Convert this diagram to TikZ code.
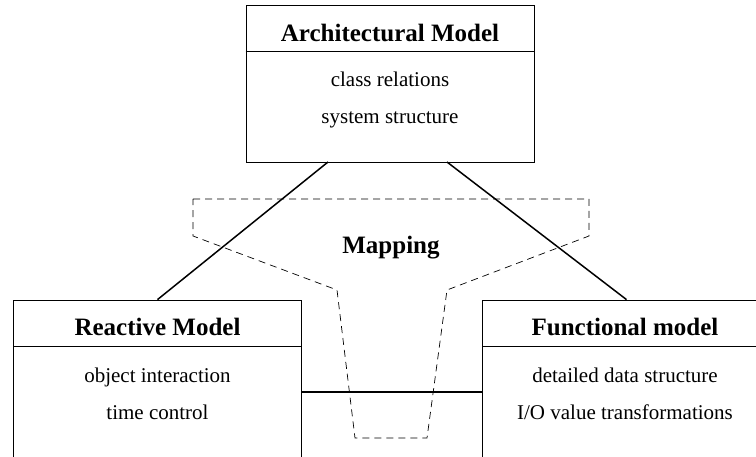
\documentclass[tikz,border=0pt]{standalone}
\usepackage{fontspec}
\setmainfont{Liberation Serif}
\usetikzlibrary{positioning}

\tikzset{
  model/.style={draw,rectangle,line width=0.8pt,minimum width=288pt,inner sep=0pt},
  heading/.style={font=\fontsize{25}{30}\selectfont\bfseries,anchor=base,inner sep=0pt},
  item/.style={font=\fontsize{21}{25}\selectfont,anchor=base,inner sep=0pt},
  link/.style={line width=1.5pt},
  funnel/.style={line width=0.7pt,dash pattern=on 7pt off 5pt}
}

\begin{document}
\begin{tikzpicture}[x=10pt,y=10pt]
        \useasboundingbox (0,0) rectangle (75.6,45.7);
        \clip (0,0) rectangle (75.6,45.7);

        \node [model,minimum height=157pt] at (39,37.35) (arch){};
        \node [model,minimum height=177pt] at (15.75,6.85) (react){};
        \node [model,minimum height=177pt] at (62.65,6.85) (func){};

        \draw [line width=0.8pt] ([yshift=-47pt]arch.north west) -- ([yshift=-47pt]arch.north east);
        \draw [line width=0.8pt] ([yshift=-47pt]react.north west) -- ([yshift=-47pt]react.north east);
        \draw [line width=0.8pt] ([yshift=-47pt]func.north west) -- ([yshift=-47pt]func.north east);

        \node [heading] at (39,41.55) (archtitle){Architectural Model};
        \node [item] at (39,37.0) (arch1){class relations};
        \node [item] at (39,33.3) (arch2){system structure};

        \node [heading] at (15.75,12.1) (reacttitle){Reactive Model};
        \node [item] at (15.75,7.4) (react1){object interaction};
        \node [item] at (15.75,3.7) (react2){time control};

        \node [heading] at (62.5,12.1) (functitle){Functional model};
        \node [item] at (62.5,7.4) (func1){detailed data structure};
        \node [item] at (62.5,3.7) (func2){I/O value transformations};

        % mapping funnel
        \draw [funnel] (19.3,25.8) -- (58.9,25.8) -- (58.9,22.1) -- (44.7,16.7)
              -- (42.7,1.9) -- (35.5,1.9) -- (33.7,16.7) -- (19.3,22.1) -- cycle;
        \node [heading] at (39.1,20.3) (map){Mapping};

        \coordinate (al) at (32.8,29.5);
        \coordinate (ar) at (44.7,29.5);
        \coordinate (mid) at (0,6.5);

        \draw [link] (al) -- (react.north);
        \draw [link] (ar) -- (func.north);
        \draw [link] (react.east |- mid) -- (func.west |- mid);
      \end{tikzpicture}
\end{document}
